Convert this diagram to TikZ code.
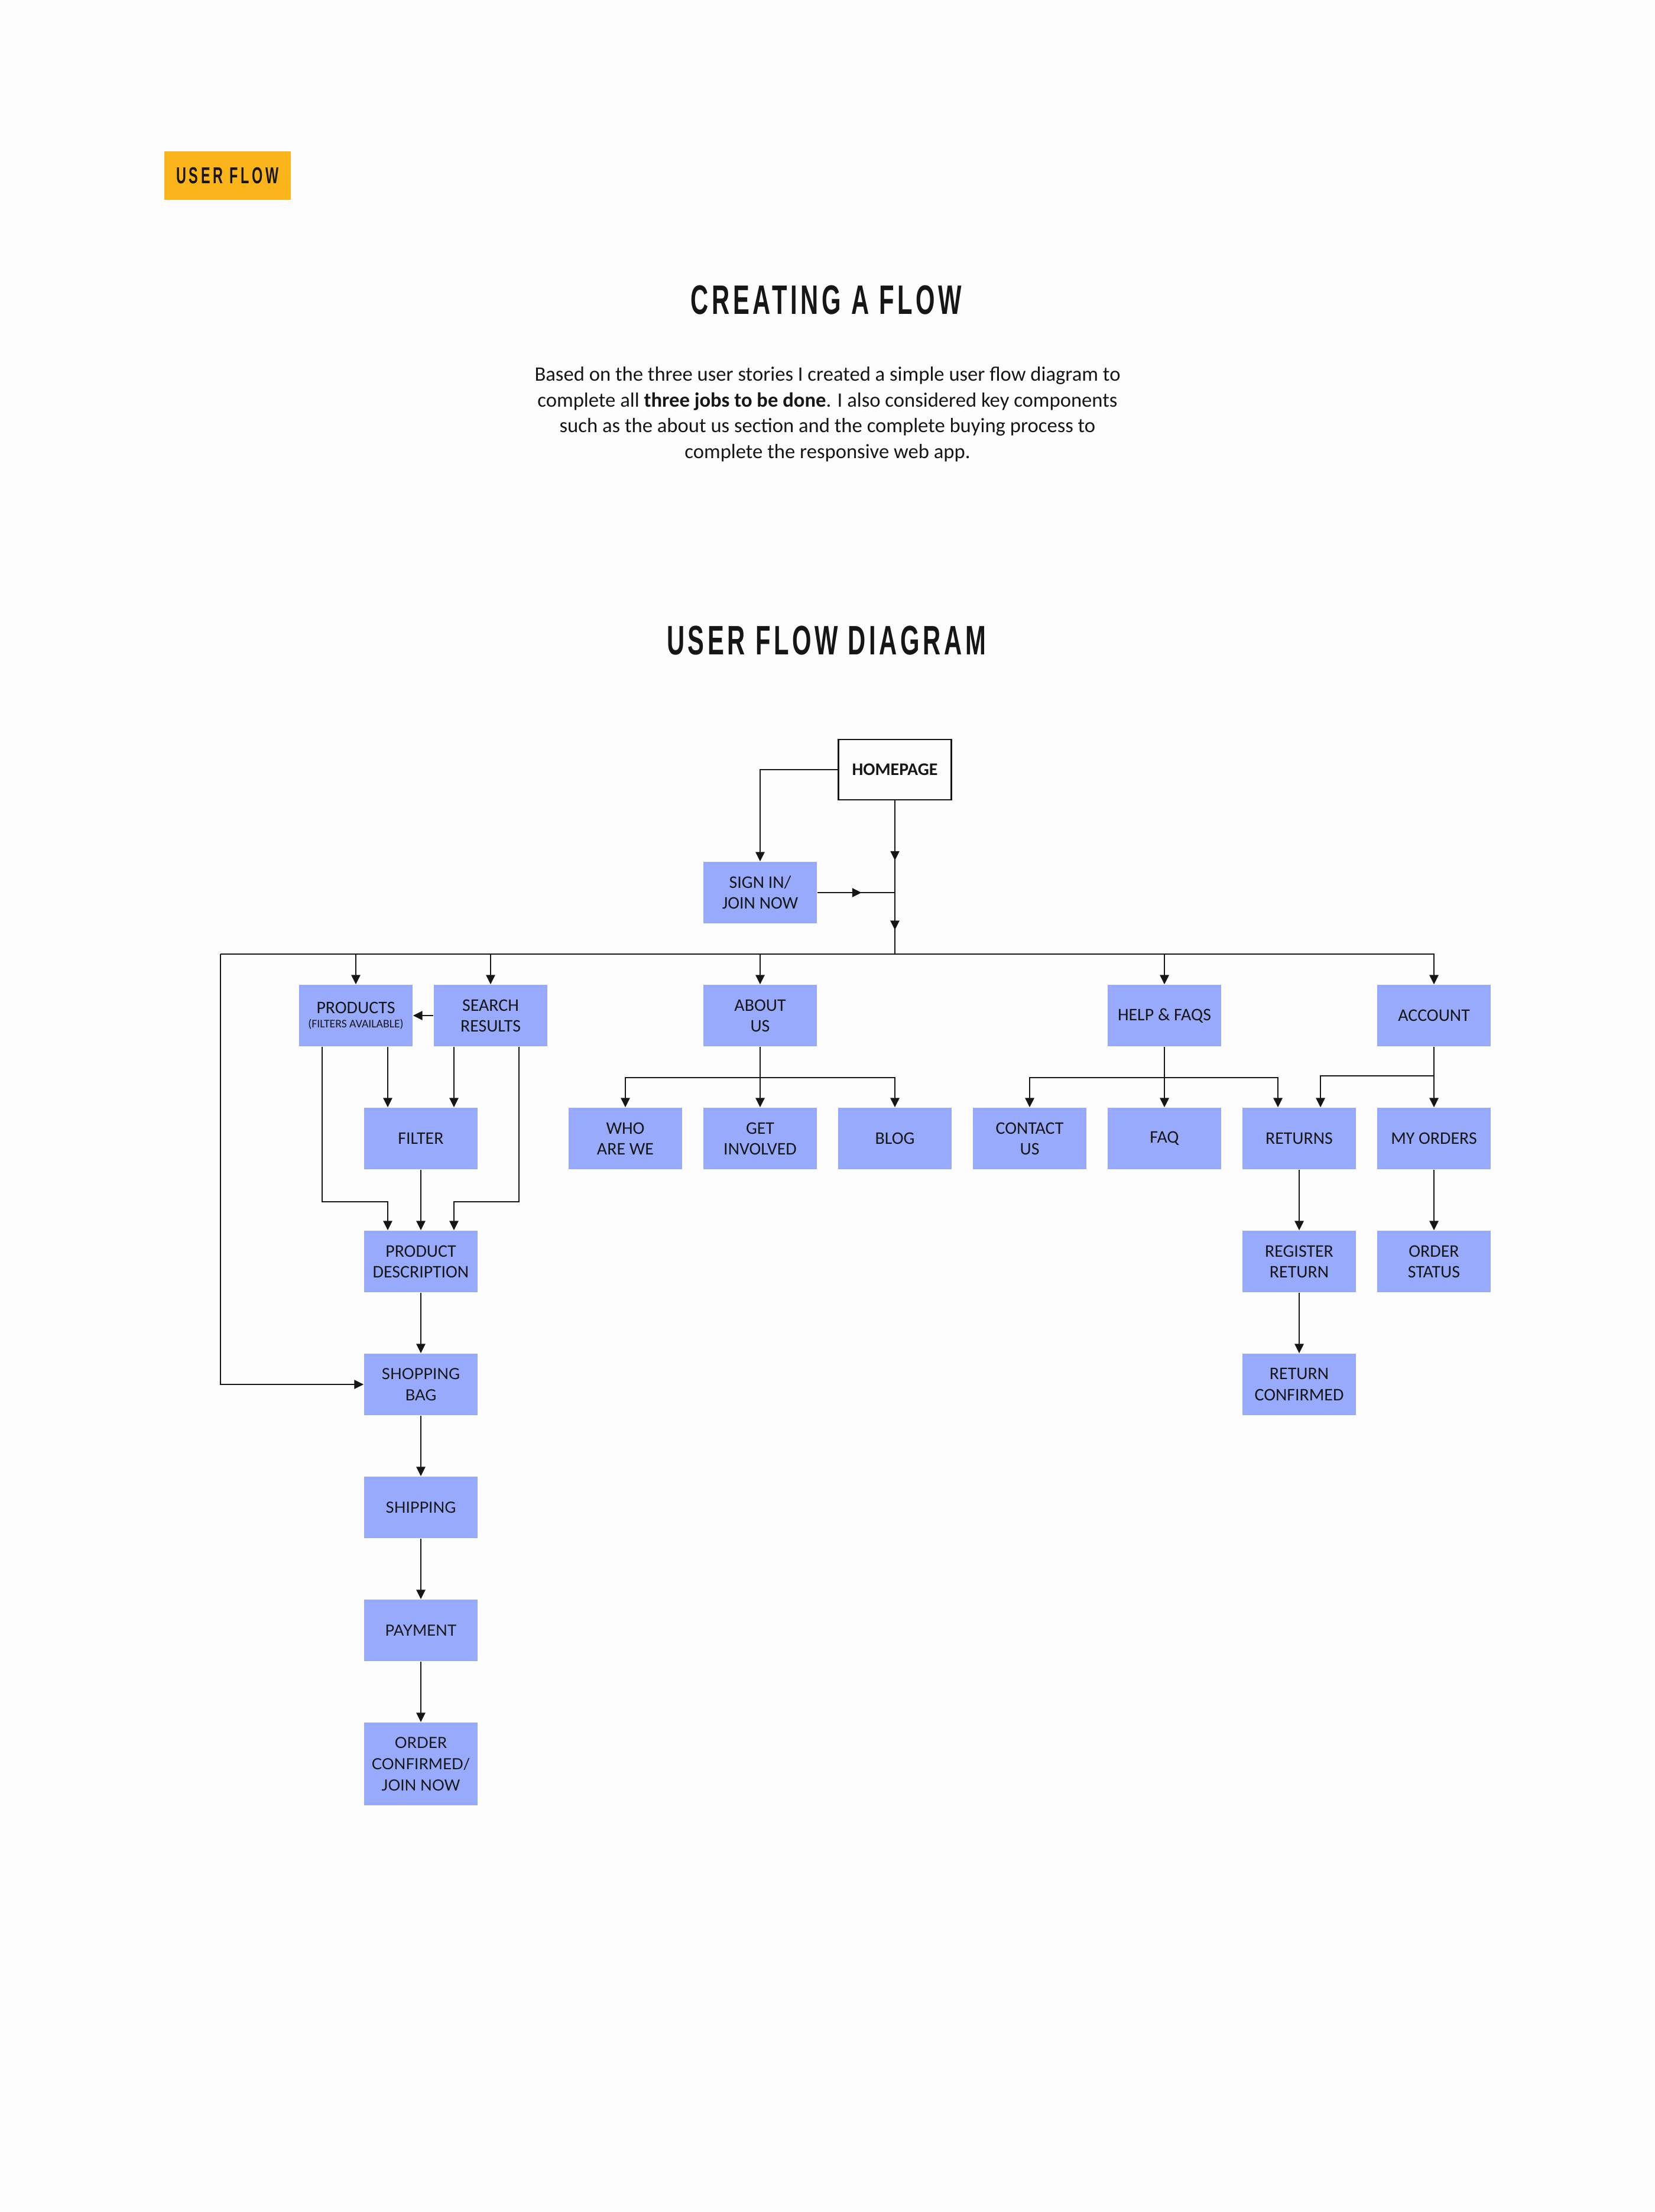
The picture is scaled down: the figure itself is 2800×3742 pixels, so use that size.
\documentclass[tikz,border=0pt]{standalone}
\usepackage{fontspec}
\setmainfont{Carlito}
\newfontfamily\headfont[FakeStretch=0.6,LetterSpace=8]{Liberation Sans}
\newfontfamily\tagfont[FakeStretch=0.6,LetterSpace=12]{Liberation Sans}
\newfontfamily\chainfont{Lato}
\usetikzlibrary{positioning, arrows.meta, calc, decorations.markings}

\definecolor{flowblue}{RGB}{151,170,251}
\definecolor{tagyellow}{RGB}{251,181,26}
\definecolor{ink}{RGB}{22,22,22}
\definecolor{paper}{RGB}{253,253,253}

\tikzset{
  screen/.style={rectangle, fill=flowblue, minimum width=1.92cm, minimum height=1.04cm, inner sep=0pt, align=center, text=ink, font=\fontsize{8.5}{10}\selectfont},
  checkout/.style={screen, font=\chainfont\fontsize{7.4}{10.2}\selectfont},
  flow/.style={draw=ink, line width=0.65pt, -{Triangle[length=4.5pt, width=4.3pt]}},
  link/.style={draw=ink, line width=0.65pt},
  midtip/.style={postaction={decorate, decoration={markings, mark=at position #1 with {\arrow{Triangle[length=4.5pt, width=4.3pt]}}}}},
}

\begin{document}
\begin{tikzpicture}[x=0.01cm, y=-0.01cm]
    \fill[paper] (0,0) rectangle (2800,3742);
    \useasboundingbox (0,0) rectangle (2800,3742);

    % header
    \node[fill=tagyellow, minimum width=2.14cm, minimum height=0.82cm, inner sep=0pt, text=ink, font=\tagfont\bfseries\fontsize{11.1}{12}\selectfont] (tag) at (385,297) {USER FLOW};
    \node[inner sep=0pt, text=ink, font=\headfont\bfseries\fontsize{19.8}{22}\selectfont] (title) at (1398,508) {CREATING A FLOW};
    \node[anchor=north, inner sep=0pt, align=center, text=ink, font=\fontsize{9.85}{12.4}\selectfont] (intro) at (1400,620) {Based on the three user stories I created a simple user flow diagram to\\complete all \textbf{three jobs to be done}. I also considered key components\\such as the about us section and the complete buying process to\\complete the responsive web app.};
    \node[inner sep=0pt, text=ink, font=\headfont\bfseries\fontsize{19.8}{22}\selectfont] (diagtitle) at (1398,1084) {USER FLOW DIAGRAM};

    % entry
    \node[draw=ink, line width=0.7pt, minimum width=1.91cm, minimum height=1.02cm, inner sep=0pt, text=ink, font=\bfseries\fontsize{8.5}{10}\selectfont] (home) at (1514,1302) {HOMEPAGE};
    \node[screen] (signin) at (1286,1510) {SIGN IN/\\JOIN NOW};

    % first level
    \node[screen] (products) at (602,1718) {PRODUCTS\\[-3pt]{\fontsize{5.6}{6}\selectfont(FILTERS AVAILABLE)}};
    \node[screen] (search) at (830,1718) {SEARCH\\RESULTS};
    \node[screen] (about) at (1286,1718) {ABOUT\\US};
    \node[screen] (help) at (1970,1718) {HELP \& FAQS};
    \node[screen] (account) at (2426,1718) {ACCOUNT};

    % second level
    \node[screen] (filter) at (712,1926) {FILTER};
    \node[screen] (who) at (1058,1926) {WHO\\ARE WE};
    \node[screen] (involved) at (1286,1926) {GET\\INVOLVED};
    \node[screen] (blog) at (1514,1926) {BLOG};
    \node[screen] (contact) at (1742,1926) {CONTACT\\US};
    \node[screen] (faq) at (1970,1926) {FAQ};
    \node[screen] (returns) at (2198,1926) {RETURNS};
    \node[screen] (orders) at (2426,1926) {MY ORDERS};

    % deeper
    \node[screen] (desc) at (712,2134) {PRODUCT\\DESCRIPTION};
    \node[screen] (register) at (2198,2134) {REGISTER\\RETURN};
    \node[screen] (status) at (2426,2134) {ORDER\\STATUS};
    \node[screen] (retok) at (2198,2342) {RETURN\\CONFIRMED};

    % checkout
    \node[checkout] (bag) at (712,2342) {SHOPPING\\BAG};
    \node[checkout] (shipping) at (712,2550) {SHIPPING};
    \node[checkout] (payment) at (712,2758) {PAYMENT};
    \node[checkout, minimum height=1.40cm] (orderok) at (712,2984) {ORDER\\CONFIRMED/\\JOIN NOW};

    \coordinate (busleft) at (373,1614);
    \coordinate (bus) at (home.south |- busleft);
    \coordinate (join) at (home.south |- signin.east);

    \draw[flow] (home.west) -| (signin.north);
    \draw[link, midtip=0.39, midtip=0.843] (home.south) -- (bus);
    \draw[link, midtip=0.57] (signin.east) -- (join);

    \draw[flow] (busleft) -| (account.north);
    \draw[flow] (busleft) |- (bag.west);
    \draw[flow] (products.north |- busleft) -- (products.north);
    \draw[flow] (search.north |- busleft) -- (search.north);
    \draw[flow] (about.north |- busleft) -- (about.north);
    \draw[flow] (help.north |- busleft) -- (help.north);

    % shop branch
    \coordinate (fl) at ($(filter.north)+(-56,0)$);
    \coordinate (fr) at ($(filter.north)+(56,0)$);
    \coordinate (dl) at ($(desc.north)+(-56,0)$);
    \coordinate (dr) at ($(desc.north)+(56,0)$);
    \draw[flow] (search.west) -- (products.east);
    \draw[flow] (fl |- products.south) -- (fl);
    \draw[flow] (fr |- search.south) -- (fr);
    \draw[flow] (filter) -- (desc);
    \draw[flow] ($(products.south)+(-57,0)$) -- ++(0,262) -| (dl);
    \draw[flow] ($(search.south)+(48,0)$) -- ++(0,262) -| (dr);
    \draw[flow] (desc) -- (bag);
    \draw[flow] (bag) -- (shipping);
    \draw[flow] (shipping) -- (payment);
    \draw[flow] (payment) -- (orderok);

    % about branch
    \coordinate (aboutbus) at ($(about.south)+(0,52)$);
    \draw[flow] (about) -- (involved);
    \draw[flow] (aboutbus) -| (who.north);
    \draw[flow] (aboutbus) -| (blog.north);

    % help branch
    \coordinate (helpbus) at ($(help.south)+(0,52)$);
    \draw[flow] (help) -- (faq);
    \draw[flow] (helpbus) -| (contact.north);
    \draw[flow] (helpbus) -| ($(returns.north)+(-36,0)$);
    \draw[flow] (returns) -- (register);
    \draw[flow] (register) -- (retok);

    % account branch
    \coordinate (accbus) at ($(account.south)+(0,49)$);
    \draw[flow] (account) -- (orders);
    \draw[flow] (accbus) -| ($(returns.north)+(36,0)$);
    \draw[flow] (orders) -- (status);
\end{tikzpicture}
\end{document}
